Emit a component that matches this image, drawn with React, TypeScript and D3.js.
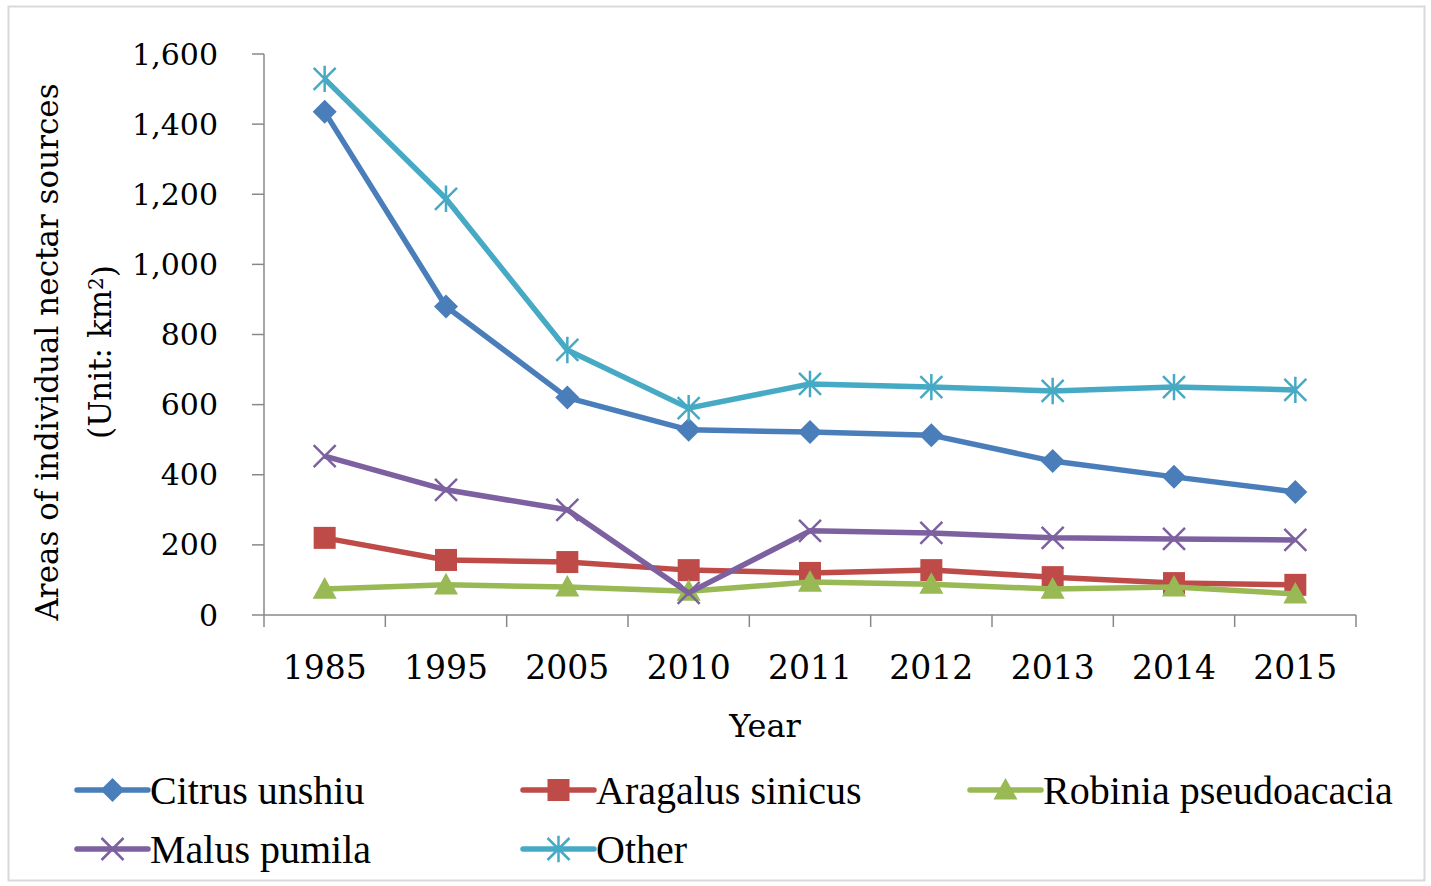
import React from "react";
import * as d3 from "d3";

const years = ["1985", "1995", "2005", "2010", "2011", "2012", "2013", "2014", "2015"];
const citrus = [1435, 880, 620, 528, 522, 513, 439, 394, 351];
const aragalus = [220, 157, 151, 128, 120, 128, 108, 91, 86];
const robinia = [74, 86, 80, 68, 94, 88, 74, 80, 60];
const malus = [453, 357, 300, 63, 240, 234, 220, 217, 214];
const other = [1529, 1187, 756, 590, 659, 650, 639, 650, 642];
const yTicks = [0, 200, 400, 600, 800, 1000, 1200, 1400, 1600];

type Series = { name: string; values: number[]; color: string; marker: string };
const series: Series[] = [
  { name: "Citrus unshiu", values: citrus, color: "#4A7EBB", marker: "diamond" },
  { name: "Aragalus sinicus", values: aragalus, color: "#BE4B48", marker: "square" },
  { name: "Robinia pseudoacacia", values: robinia, color: "#98B954", marker: "triangle" },
  { name: "Malus pumila", values: malus, color: "#7D60A0", marker: "x" },
  { name: "Other", values: other, color: "#46AAC5", marker: "star" },
];

function Marker({ type, x, y, color }: { type: string; x: number; y: number; color: string }) {
  if (type === "diamond") {
    const r = 12;
    return <path d={`M${x},${y - r}L${x + r},${y}L${x},${y + r}L${x - r},${y}Z`} fill={color} />;
  }
  if (type === "square") {
    const r = 11;
    return <rect x={x - r} y={y - r} width={2 * r} height={2 * r} fill={color} />;
  }
  if (type === "triangle") {
    const r = 12;
    return <path d={`M${x},${y - r}L${x + r},${y + r * 0.8}L${x - r},${y + r * 0.8}Z`} fill={color} />;
  }
  if (type === "x") {
    const r = 11;
    return (
      <path d={`M${x - r},${y - r}L${x + r},${y + r}M${x - r},${y + r}L${x + r},${y - r}`} stroke={color} strokeWidth={2.5} />
    );
  }
  const r = 11;
  return (
    <path
      d={`M${x - r},${y - r}L${x + r},${y + r}M${x - r},${y + r}L${x + r},${y - r}M${x},${y - r * 1.2}L${x},${y + r * 1.2}`}
      stroke={color}
      strokeWidth={2.5}
    />
  );
}

export default function App() {
  const left = 264;
  const right = 1356;
  const top = 54;
  const bottom = 615;
  const x = d3.scaleBand<string>().domain(years).range([left, right]);
  const y = d3.scaleLinear().domain([0, 1600]).range([bottom, top]);
  const line = d3
    .line<number>()
    .x((_, i) => (x(years[i]) as number) + x.bandwidth() / 2)
    .y((d) => y(d));
  const fmt = d3.format(",");
  const axisColor = "#888888";
  const tickFont = "'DejaVu Serif', serif";
  const legendFont = "'Liberation Serif', serif";

  const legendPos = [
    { lx: 77, ty: 790 },
    { lx: 523, ty: 790 },
    { lx: 970, ty: 790 },
    { lx: 77, ty: 849 },
    { lx: 523, ty: 849 },
  ];

  return (
    <svg width={1431} height={886} style={{ position: "absolute", left: 0, top: 0 }}>
      <rect x={0} y={0} width={1431} height={886} fill="#ffffff" />
      <rect x={8.5} y={6.5} width={1416} height={874} fill="none" stroke="#D9D9D9" strokeWidth={2} />

      {/* y axis */}
      <line x1={left} x2={left} y1={top} y2={bottom} stroke={axisColor} strokeWidth={1.5} />
      {yTicks.map((t) => (
        <g key={t}>
          <line x1={left - 12} x2={left} y1={y(t)} y2={y(t)} stroke={axisColor} strokeWidth={1.5} />
          <text x={218} y={y(t)} dy="0.35em" textAnchor="end" fontFamily={tickFont} fontSize={30} fill="#000">
            {fmt(t)}
          </text>
        </g>
      ))}

      {/* x axis */}
      <line x1={left} x2={right} y1={bottom} y2={bottom} stroke={axisColor} strokeWidth={1.5} />
      {[...years.map((yy) => x(yy) as number), right].map((px, i) => (
        <line key={i} x1={px} x2={px} y1={bottom} y2={bottom + 12} stroke={axisColor} strokeWidth={1.5} />
      ))}
      {years.map((yy) => (
        <text
          key={yy}
          x={(x(yy) as number) + x.bandwidth() / 2}
          y={667}
          dy="0.35em"
          textAnchor="middle"
          fontFamily={tickFont}
          fontSize={33}
          fill="#000"
        >
          {yy}
        </text>
      ))}
      <text x={765} y={726} dy="0.35em" textAnchor="middle" fontFamily={tickFont} fontSize={32} fill="#000">
        Year
      </text>

      {/* y title */}
      <g transform="translate(47,352) rotate(-90)">
        <text x={0} y={0} dy="0.35em" textAnchor="middle" fontFamily={tickFont} fontSize={31} fill="#000">
          Areas of individual nectar sources
        </text>
      </g>
      <g transform="translate(100,352) rotate(-90)">
        <text x={0} y={0} dy="0.35em" textAnchor="middle" fontFamily={tickFont} fontSize={31} fill="#000">
          (Unit: km<tspan dy="-0.4em" fontSize={20}>2</tspan>
          <tspan dy="0.4em">)</tspan>
        </text>
      </g>

      {/* series */}
      {series.map((s) => (
        <g key={s.name}>
          <path d={line(s.values) as string} fill="none" stroke={s.color} strokeWidth={5.5} strokeLinejoin="round" />
          {s.values.map((v, i) => (
            <Marker
              key={i}
              type={s.marker}
              x={(x(years[i]) as number) + x.bandwidth() / 2}
              y={y(v)}
              color={s.color}
            />
          ))}
        </g>
      ))}

      {/* legend */}
      {series.map((s, i) => {
        const p = legendPos[i];
        return (
          <g key={s.name}>
            <line x1={p.lx} x2={p.lx + 71} y1={p.ty} y2={p.ty} stroke={s.color} strokeWidth={5.5} strokeLinecap="round" />
            <Marker type={s.marker} x={p.lx + 35.5} y={p.ty} color={s.color} />
            <text x={p.lx + 73} y={p.ty} dy="0.35em" fontFamily={legendFont} fontSize={40} fill="#000">
              {s.name}
            </text>
          </g>
        );
      })}
    </svg>
  );
}
